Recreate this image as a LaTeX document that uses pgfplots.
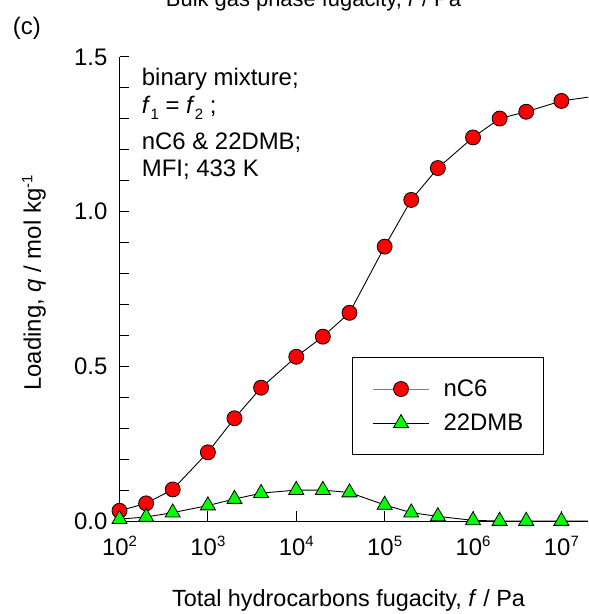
\documentclass[border=0pt]{standalone}
\usepackage{pgfplots}
\pgfplotsset{compat=1.18}
\usepackage{pgfplotstable}
\usepackage{fontspec}
\setmainfont{Liberation Sans}
\newcommand\sups[1]{\raisebox{8.5bp}{\fontsize{15}{15}\selectfont #1}}
\newcommand\subs[1]{\raisebox{-6bp}{\fontsize{15}{15}\selectfont #1}}

\pgfplotstableread{
f q
1e2 0.033
2e2 0.057
4e2 0.102
1e3 0.222
2e3 0.332
4e3 0.431
1e4 0.531
2e4 0.596
4e4 0.673
1e5 0.887
2e5 1.038
4e5 1.141
1e6 1.240
2e6 1.301
4e6 1.323
1e7 1.358
}\nCsix

\pgfplotstableread{
f q
1e2 0.006
2e2 0.013
4e2 0.027
1e3 0.050
2e3 0.071
4e3 0.090
1e4 0.100
2e4 0.100
4e4 0.092
1e5 0.052
2e5 0.027
4e5 0.015
1e6 0.002
2e6 0.000
4e6 0.000
1e7 0.000
}\DMB

\begin{document}
\begin{tikzpicture}[font=\fontsize{24}{28}\selectfont]
\useasboundingbox (0,0) rectangle (589bp,614bp);
\begin{axis}[
  at={(119.5bp,93bp)}, anchor=south west,
  scale only axis, width=468.5bp, height=464bp,
  xmode=log, xmin=1e2, xmax=2e7, ymin=0, ymax=1.5,
  axis x line=bottom, axis y line=left, axis line style={-, line width=1bp},
  xtick={1e2,1e3,1e4,1e5,1e6,1e7},
  xticklabels={10\sups{2},10\sups{3},10\sups{4},10\sups{5},10\sups{6},10\sups{7}},
  xminorticks=false,
  ytick={0,0.5,1,1.5}, yticklabels={0.0,0.5,1.0,1.5},
  minor y tick num=4,
  tick align=inside, major tick length=10bp, minor tick length=10bp,
  tick style={line width=1bp, black},
  xticklabel style={anchor=base, inner sep=0pt, yshift=-34bp},
  yticklabel style={anchor=east, inner sep=0pt, xshift=-12bp},
  clip=false,
  legend style={at={(0.4963,0.3525)}, anchor=north west, draw=black, line width=1bp,
     inner xsep=20bp, inner ysep=22bp, row sep=16bp, column sep=14bp,
     nodes={inner sep=0pt}},
  legend cell align=left,
]
\addplot[black, line width=0.9bp, forget plot] coordinates {
(1e2,0.033)(2e2,0.057)(4e2,0.102)(1e3,0.222)(2e3,0.332)(4e3,0.431)(1e4,0.531)(2e4,0.596)
(4e4,0.673)(1e5,0.887)(2e5,1.038)(4e5,1.141)(1e6,1.240)(2e6,1.301)(4e6,1.323)(1e7,1.358)(2e7,1.37)};
\addplot[black, line width=0.9bp, forget plot] coordinates {
(1e2,0.006)(2e2,0.013)(4e2,0.027)(1e3,0.050)(2e3,0.071)(4e3,0.090)(1e4,0.100)(2e4,0.100)
(4e4,0.092)(1e5,0.052)(2e5,0.027)(4e5,0.015)(1e6,0.002)(2e6,0.0)(4e6,0.0)(1e7,0.0)(2e7,0.0)};
\addplot[only marks, mark=*, mark size=7.5bp, mark options={fill=red, draw=black, line width=0.8bp},
  legend image code/.code={
    \draw[gray, line width=1bp] (0bp,0bp) -- (56bp,0bp);
    \draw[mark=*, mark size=7.5bp, mark options={fill=red, draw=black, line width=0.8bp}] plot coordinates {(28bp,0bp)};}
] table[x=f, y=q] {\nCsix};
\addlegendentry{nC6}
\addplot[only marks, mark=triangle*, mark size=8.7bp, mark options={fill=green, draw=black, line width=0.8bp},
  legend image code/.code={
    \draw[black, line width=1bp] (0bp,0bp) -- (56bp,0bp);
    \draw[mark=triangle*, mark size=8.7bp, mark options={fill=green, draw=black, line width=0.8bp}] plot coordinates {(28bp,0bp)};}
] table[x=f, y=q] {\DMB};
\addlegendentry{22DMB}
\end{axis}
\node[anchor=base, font=\fontsize{22}{26}\selectfont] at (313.5bp,607bp) {Bulk gas phase fugacity, \textit{f} / Pa};
\node[anchor=base west, inner sep=0pt] at (12.7bp,579.6bp) {(c)};
\node[rotate=90, inner sep=0pt] at (34bp,331bp) {Loading, \textit{q} / mol kg\sups{-1}};
\node[anchor=base, inner sep=0pt, font=\fontsize{23.5}{28}\selectfont] at (348.5bp,8bp) {Total hydrocarbons fugacity, \textit{f} / Pa};
\node[anchor=base west, inner sep=0pt] at (141.7bp,528.3bp) {binary mixture;};
\node[anchor=base west, inner sep=0pt] at (141.7bp,500bp) {\textit{f}\subs{1} = \textit{f}\subs{2} ;};
\node[anchor=base west, inner sep=0pt] at (141.7bp,464.7bp) {nC6 \& 22DMB;};
\node[anchor=base west, inner sep=0pt] at (141.7bp,437.3bp) {MFI; 433 K};
\end{tikzpicture}
\end{document}
